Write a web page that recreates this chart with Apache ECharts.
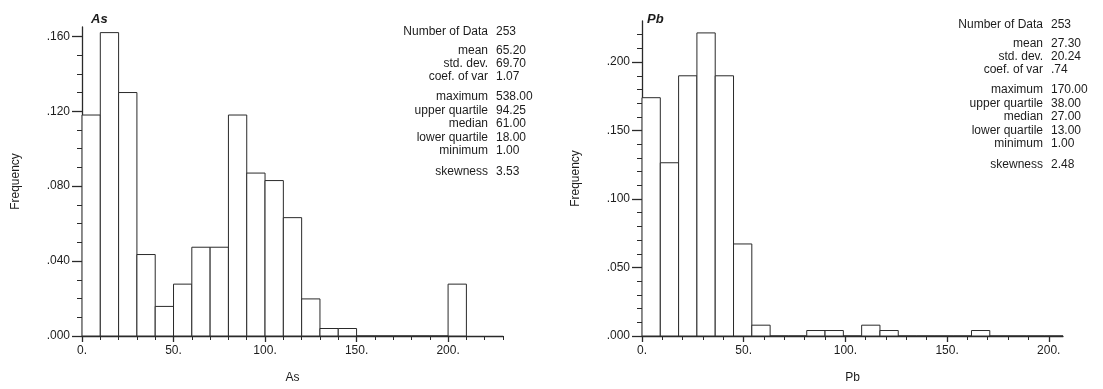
<!DOCTYPE html>
<html>
<head>
<meta charset="utf-8">
<script src="https://cdn.jsdelivr.net/npm/echarts@6/dist/echarts.min.js"></script>
<style>
  html, body { margin: 0; padding: 0; background: #fff; }
  #chart { width: 1103px; height: 389px; }
</style>
</head>
<body>
<div id="chart"></div>
<script>
// ---- data ----
const asEdges = [0, 10, 20, 30, 40, 50, 60, 70, 80, 90, 100, 110, 120, 130, 140, 150, 160, 170, 180, 190, 200, 210];
const asFreq = [0.118, 0.162, 0.130, 0.0435, 0.0158, 0.0277, 0.0474, 0.0474, 0.118, 0.087, 0.083, 0.0632,
  0.0198, 0.004, 0.004, 0, 0, 0, 0, 0, 0.0277];

const pbEdges = [0, 9, 18, 27, 36, 45, 54, 63, 72, 81, 90, 99, 108, 117, 126, 135, 144, 153, 162, 171, 180, 189, 198, 207];
const pbFreq = [0.174, 0.1265, 0.190, 0.2213, 0.190, 0.0672, 0.0079, 0, 0, 0.004, 0.004, 0, 0.0079, 0.004,
  0, 0, 0, 0, 0.004, 0, 0, 0, 0];

const asXMajor = [0, 50, 100, 150, 200];
const asXMinor = [0, 10, 20, 30, 40, 50, 60, 70, 80, 90, 100, 110, 120, 130, 140, 150, 160, 170, 180, 190, 200, 210, 220, 230];
const asYMajor = [0, 0.04, 0.08, 0.12, 0.16];
const asYMinor = [0, 0.01, 0.02, 0.03, 0.04, 0.05, 0.06, 0.07, 0.08, 0.09, 0.10, 0.11, 0.12, 0.13, 0.14, 0.15, 0.16];

const pbXMajor = [0, 50, 100, 150, 200];
const pbXMinor = [0, 10, 20, 30, 40, 50, 60, 70, 80, 90, 100, 110, 120, 130, 140, 150, 160, 170, 180, 190, 200];
const pbYMajor = [0, 0.05, 0.10, 0.15, 0.20];
const pbYMinor = [0, 0.01, 0.02, 0.03, 0.04, 0.05, 0.06, 0.07, 0.08, 0.09, 0.10, 0.11, 0.12, 0.13, 0.14, 0.15,
  0.16, 0.17, 0.18, 0.19, 0.20, 0.21, 0.22];

const statLabels = ["Number of Data", "mean", "std. dev.", "coef. of var", "maximum", "upper quartile",
  "median", "lower quartile", "minimum", "skewness"];
const asStats = ["253", "65.20", "69.70", "1.07", "538.00", "94.25", "61.00", "18.00", "1.00", "3.53"];
const pbStats = ["253", "27.30", "20.24", ".74", "170.00", "38.00", "27.00", "13.00", "1.00", "2.48"];

// ---- styling ----
const FONT = "Liberation Sans, Arial, sans-serif";
const INK = "#1c1c1c";
const LINE = "#2a2a2a";

const bins = (edges, freq) => freq.map((f, i) => [edges[i], edges[i + 1], f]);

const histogram = (data, xi, yi) => ({
  type: "custom",
  xAxisIndex: xi,
  yAxisIndex: yi,
  data,
  encode: { x: [0, 1], y: 2 },
  renderItem: (params, api) => {
    const a = api.coord([api.value(0), 0]);
    const b = api.coord([api.value(1), api.value(2)]);
    return {
      type: "rect",
      shape: { x: a[0], y: b[1], width: b[0] - a[0], height: a[1] - b[1] },
      style: { fill: "#fff", stroke: LINE, lineWidth: 1 },
    };
  },
  silent: true,
  animation: false,
});

const yFmt = (v) => "." + v.toFixed(3).split(".")[1];
const xFmt = (v) => v + ".";

function xAxes(grid, max, major, minor, name) {
  return [
    {
      type: "value", gridIndex: grid, position: "bottom", min: 0, max,
      name, nameLocation: "middle", nameGap: 36,
      nameTextStyle: { color: INK, fontFamily: FONT, fontSize: 12 },
      axisLine: { show: true, onZero: false, lineStyle: { color: LINE, width: 1.3 } },
      axisTick: { show: true, customValues: major, length: 6, lineStyle: { color: LINE, width: 1.3 } },
      axisLabel: { customValues: major, formatter: xFmt, margin: 9, color: INK, fontFamily: FONT, fontSize: 12 },
      splitLine: { show: false },
    },
    {
      type: "value", gridIndex: grid, position: "bottom", min: 0, max,
      axisLine: { show: false, onZero: false },
      axisTick: { show: true, customValues: minor, length: 4, lineStyle: { color: LINE } },
      axisLabel: { show: false },
      splitLine: { show: false },
    },
  ];
}

function yAxes(grid, max, major, minor) {
  return [
    {
      type: "value", gridIndex: grid, position: "left", min: 0, max,
      axisLine: { show: true, onZero: false, lineStyle: { color: LINE, width: 1.3 } },
      axisTick: { show: true, customValues: major, length: 10, lineStyle: { color: LINE, width: 1.3 } },
      axisLabel: { customValues: major, formatter: yFmt, margin: 12, color: INK, fontFamily: FONT, fontSize: 12 },
      splitLine: { show: false },
    },
    {
      type: "value", gridIndex: grid, position: "left", min: 0, max,
      name: "Frequency", nameLocation: "middle", nameGap: 60, nameRotate: 90,
      nameTextStyle: { color: INK, fontFamily: FONT, fontSize: 12 },
      axisLine: { show: false, onZero: false },
      axisTick: { show: true, customValues: minor, length: 5, lineStyle: { color: LINE } },
      axisLabel: { show: false },
      splitLine: { show: false },
    },
  ];
}

// row positions of the statistics blocks
const asRows = [31.5, 50.5, 63.5, 77, 96.5, 110.5, 124, 137.5, 151, 171.5];
const pbRows = [25, 44, 57, 70, 89.5, 103.5, 117, 130.5, 144, 164.5];

function statBlock(labels, values, rows, xSplit) {
  const out = [];
  const txt = (t, x, y, align) => ({
    type: "text", x, y,
    style: { text: t, fill: INK, font: "12px " + FONT, textAlign: align, textVerticalAlign: "middle" },
  });
  labels.forEach((t, i) => {
    out.push(txt(t, xSplit - 4, rows[i], "right"));
    out.push(txt(values[i], xSplit + 4, rows[i], "left"));
  });
  return out;
}

const chart = echarts.init(document.getElementById("chart"), null, { renderer: "canvas" });
chart.setOption({
  backgroundColor: "#fff",
  animation: false,
  title: [
    { text: "As", left: 86, top: 8, textStyle: { fontFamily: FONT, fontSize: 13, fontWeight: "bold", fontStyle: "italic", color: INK } },
    { text: "Pb", left: 642, top: 8, textStyle: { fontFamily: FONT, fontSize: 13, fontWeight: "bold", fontStyle: "italic", color: INK } },
  ],
  grid: [
    { left: 82, top: 27, width: 421, height: 315 },
    { left: 642, top: 21, width: 421, height: 317 },
  ],
  xAxis: [
    ...xAxes(0, 230, asXMajor, asXMinor, "As"),
    ...xAxes(1, 207, pbXMajor, pbXMinor, "Pb"),
  ],
  yAxis: [
    ...yAxes(0, 0.165, asYMajor, asYMinor),
    ...yAxes(1, 0.23, pbYMajor, pbYMinor),
  ],
  series: [
    histogram(bins(asEdges, asFreq), 0, 0),
    histogram(bins(pbEdges, pbFreq), 2, 2),
  ],
  graphic: [
    ...statBlock(statLabels, asStats, asRows, 492),
    ...statBlock(statLabels, pbStats, pbRows, 1047),
  ],
});
</script>
</body>
</html>
